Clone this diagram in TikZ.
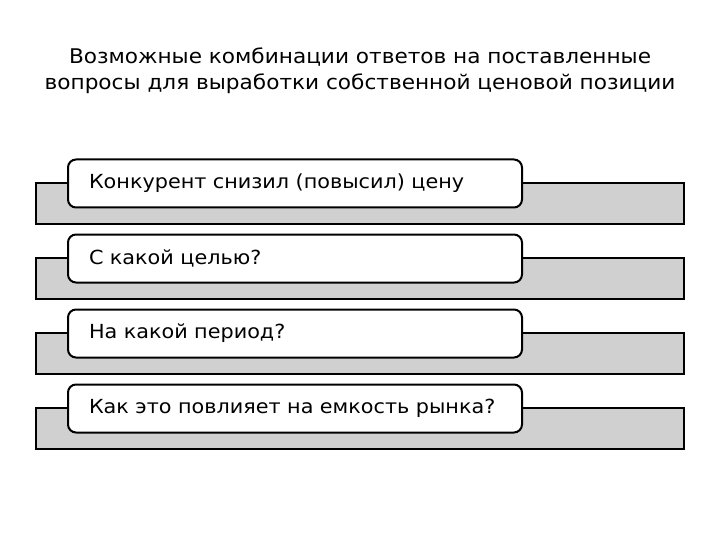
\documentclass[tikz,border=0pt]{standalone}
\usepackage{fontspec}
\setmainfont[FakeStretch=1.07]{DejaVu Sans}
\usepackage{tikz}
\usetikzlibrary{shapes, positioning}
\definecolor{bargray}{RGB}{208,208,208}
\tikzstyle{bar} = [rectangle, draw, line width=2pt, fill=bargray, minimum width=648pt, minimum height=41pt]
\tikzstyle{qbox} = [rectangle, draw, line width=2pt, fill=white, rounded corners=8pt, minimum width=454pt, minimum height=48pt, text width=412pt, align=left, font=\fontsize{19.4}{22}\selectfont]

\begin{document}
\begin{tikzpicture}[x=1pt, y=-1pt]
    \useasboundingbox (0,0) rectangle (720,540);
    \node[align=center, font=\fontsize{20.2}{26}\selectfont](title) at (360,70.5)
        {Возможные комбинации ответов на поставленные\\вопросы для выработки собственной ценовой позиции};

    \node[bar](bar1) at (360,203.5){};
    \node[qbox](q1) at (295,183.5){Конкурент снизил (повысил) цену};
    \node[bar](bar2) at (360,278.5){};
    \node[qbox](q2) at (295,258.5){С какой целью?};
    \node[bar](bar3) at (360,353.5){};
    \node[qbox](q3) at (295,333.5){На какой период?};
    \node[bar](bar4) at (360,428.5){};
    \node[qbox](q4) at (295,408.5){Как это повлияет на емкость рынка?};
\end{tikzpicture}
\end{document}
